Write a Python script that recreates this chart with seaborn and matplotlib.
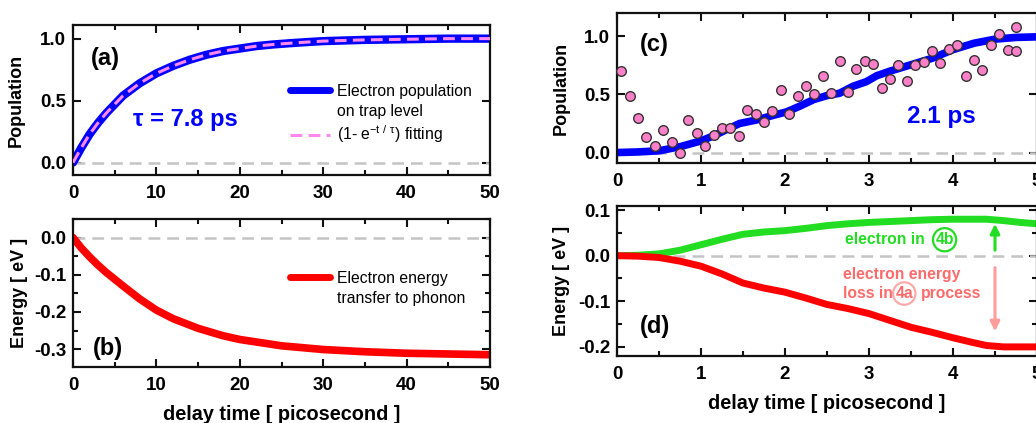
import matplotlib
matplotlib.use("Agg")
import matplotlib.pyplot as plt
from matplotlib.lines import Line2D
from matplotlib.ticker import MultipleLocator
import seaborn as sns

# (a) electron population on trap level, 0-50 ps
t_a = [0, 0.5, 1, 2, 3, 4, 5, 6, 7, 8, 10, 12, 14, 16, 18, 20, 22, 24, 26, 28, 30, 35, 40, 45, 50]
pop_a = [0, 0.06, 0.12, 0.23, 0.32, 0.40, 0.47, 0.54, 0.59, 0.64, 0.72, 0.78, 0.83,
         0.87, 0.90, 0.92, 0.94, 0.953, 0.963, 0.972, 0.98, 0.99, 0.995, 1.0, 1.0]
fit_a = [0, 0.06, 0.12, 0.23, 0.32, 0.40, 0.47, 0.54, 0.59, 0.64, 0.72, 0.78, 0.83,
         0.87, 0.90, 0.92, 0.94, 0.953, 0.963, 0.972, 0.98, 0.99, 0.995, 1.0, 1.0]

# (b) electron energy transfer to phonon
t_b = [0, 1, 2, 3, 4, 5, 6, 8, 10, 12, 15, 18, 20, 25, 30, 35, 40, 45, 50]
energy_b = [0, -0.028, -0.052, -0.074, -0.094, -0.112, -0.13, -0.165, -0.195, -0.218,
            -0.244, -0.264, -0.274, -0.291, -0.301, -0.307, -0.311, -0.313, -0.315]

# (c) population, 0-5 ps: fitted curve and measured points
t_c = [0, 0.25, 0.5, 0.75, 1.0, 1.17, 1.31, 1.46, 1.66, 1.86, 2.02, 2.18, 2.34, 2.5,
       2.65, 2.81, 2.97, 3.09, 3.25, 3.5, 3.75, 4.0, 4.25, 4.5, 4.75, 5.0]
pop_c = [0.0, 0.005, 0.015, 0.05, 0.10, 0.15, 0.20, 0.25, 0.28, 0.32, 0.35, 0.40, 0.455,
         0.49, 0.51, 0.57, 0.61, 0.66, 0.70, 0.755, 0.81, 0.885, 0.94, 0.975, 0.99, 0.995]
t_pts = [0.05, 0.15, 0.25, 0.35, 0.45, 0.55, 0.65, 0.75, 0.85, 0.95, 1.05, 1.15, 1.25,
         1.35, 1.45, 1.55, 1.65, 1.75, 1.85, 1.95, 2.05, 2.15, 2.25, 2.35, 2.45, 2.55,
         2.65, 2.75, 2.85, 2.95, 3.05, 3.15, 3.25, 3.35, 3.45, 3.55, 3.65, 3.75, 3.85,
         3.95, 4.05, 4.15, 4.25, 4.35, 4.45, 4.55, 4.65, 4.75, 4.75]
pop_pts = [0.70, 0.49, 0.30, 0.13, 0.06, 0.19, 0.09, 0.00, 0.28, 0.17, 0.06, 0.15, 0.21,
           0.21, 0.14, 0.365, 0.33, 0.265, 0.36, 0.535, 0.33, 0.49, 0.575, 0.50, 0.66, 0.51,
           0.785, 0.52, 0.72, 0.785, 0.765, 0.555, 0.63, 0.75, 0.615, 0.75, 0.78, 0.875, 0.77,
           0.89, 0.925, 0.66, 0.80, 0.71, 0.925, 1.02, 0.885, 1.08, 0.87]

# (d) energy of electron in 4b (green) and loss in 4a (red)
t_d = [0, 0.25, 0.5, 0.75, 1.0, 1.25, 1.5, 1.75, 2.0, 2.25, 2.5, 2.75, 3.0, 3.25, 3.5,
       3.75, 4.0, 4.25, 4.4, 4.6, 4.8, 5.0]
e_green = [0, 0.001, 0.004, 0.012, 0.024, 0.036, 0.047, 0.052, 0.055, 0.06, 0.066, 0.07,
           0.073, 0.075, 0.077, 0.079, 0.08, 0.08, 0.08, 0.077, 0.073, 0.07]
e_red = [0, -0.001, -0.004, -0.012, -0.023, -0.04, -0.06, -0.071, -0.08, -0.093, -0.107,
         -0.116, -0.127, -0.142, -0.157, -0.168, -0.18, -0.191, -0.197, -0.2, -0.2, -0.2]

BLUE = "#0000ff"
PINK = "#ff88ee"
RED = "#ff0000"
GREEN = "#22dd22"
SALMON = "#ff6b6b"
GRAY = "#c4c4c4"

sns.set_theme(style="ticks")
plt.rcParams['font.family'] = ['Liberation Sans', 'DejaVu Sans']
plt.rcParams['font.weight'] = 'bold'
plt.rcParams['axes.labelweight'] = 'bold'
plt.rcParams['axes.unicode_minus'] = False
plt.rcParams['mathtext.fontset'] = 'custom'
plt.rcParams['mathtext.rm'] = 'Liberation Sans'
plt.rcParams['lines.scale_dashes'] = False
for key in ('text.color', 'axes.labelcolor', 'xtick.color', 'ytick.color', 'axes.edgecolor'):
    plt.rcParams[key] = 'black'

W, H = 1036, 423
fig = plt.figure(figsize=(W / 100, H / 100), dpi=100)


def px_axes(x0, x1, ytop, ybot):
    return fig.add_axes([x0 / W, 1 - ybot / H, (x1 - x0) / W, (ybot - ytop) / H])


def style(ax, xlim, ylim, xmaj, xmin, ymaj, ymin=None):
    ax.set_xlim(*xlim)
    ax.set_ylim(*ylim)
    ax.xaxis.set_major_locator(MultipleLocator(xmaj))
    ax.xaxis.set_minor_locator(MultipleLocator(xmin))
    ax.yaxis.set_major_locator(MultipleLocator(ymaj))
    if ymin:
        ax.yaxis.set_minor_locator(MultipleLocator(ymin))
    ax.tick_params(which='both', direction='in', top=True, right=True, width=1.5,
                   color='#111111')
    ax.tick_params(which='major', length=6, labelsize=13.5, pad=5)
    ax.tick_params(axis='x', which='major', pad=7)
    ax.tick_params(which='minor', length=3.5)
    for s in ax.spines.values():
        s.set_linewidth(1.6)
        s.set_color('#111111')
        s.set_visible(True)
    ax.axhline(0, color=GRAY, lw=1.8, dashes=(8.5, 5), zorder=1)


ax_a = px_axes(73, 490, 25, 175)
ax_b = px_axes(73, 490, 219, 367)
ax_c = px_axes(617, 1037, 13, 163)
ax_d = px_axes(617, 1037, 206, 356)

# (a)
style(ax_a, (0, 50), (-0.1, 1.11), 10, 5, 0.5)
sns.lineplot(x=t_a, y=pop_a, ax=ax_a, color=BLUE, lw=6, zorder=2)
sns.lineplot(x=t_a, y=fit_a, ax=ax_a, color=PINK, lw=2.2, zorder=3)
ax_a.lines[-1].set_dashes((8.5, 4.5))
ax_a.set_ylabel("Population", fontsize=13)
ax_a.yaxis.set_label_coords(-0.115, 0.5)
ax_a.text(0.077, 0.78, "(a)", transform=ax_a.transAxes, fontsize=17, ha='center', va='center')
ax_a.text(0.269, 0.367, "τ = 7.8 ps", transform=ax_a.transAxes, fontsize=17,
          color=BLUE, ha='center', va='center')
handles = [Line2D([], [], color=BLUE, lw=5),
           Line2D([], [], alpha=0),
           Line2D([], [], color=PINK, lw=2.2, dashes=(8.5, 4.5))]
labels = ["Electron population", "on trap level",
          r"(1- e$^{\mathregular{-t\ /\ τ}}$) fitting"]
ax_a.legend(handles, labels, loc='upper left', bbox_to_anchor=(0.52, 0.607),
            frameon=False, borderpad=0, borderaxespad=0, handlelength=2.55,
            handletextpad=0.45, labelspacing=0.3,
            prop={'weight': 'normal', 'size': 11.3})

# (b)
style(ax_b, (0, 50), (-0.348, 0.05), 10, 5, 0.1, 0.05)
sns.lineplot(x=t_b, y=energy_b, ax=ax_b, color=RED, lw=5.5, zorder=2)
ax_b.set_ylabel("Energy [ eV ]", fontsize=13)
ax_b.yaxis.set_label_coords(-0.108, 0.5)
ax_b.set_xlabel("delay time [ picosecond ]", fontsize=14.3)
ax_b.xaxis.set_label_coords(0.5, -0.257)
ax_b.text(0.084, 0.128, "(b)", transform=ax_b.transAxes, fontsize=17, ha='center', va='center')
ax_b.legend([Line2D([], [], color=RED, lw=5), Line2D([], [], alpha=0)],
            ["Electron energy", "transfer to phonon"], loc='upper left',
            bbox_to_anchor=(0.52, 0.65), frameon=False, borderpad=0, borderaxespad=0,
            handlelength=2.55, handletextpad=0.45, labelspacing=0.3,
            prop={'weight': 'normal', 'size': 11.3})

# (c)
style(ax_c, (0, 5), (-0.09, 1.2), 1, 0.5, 0.5)
sns.lineplot(x=t_c, y=pop_c, ax=ax_c, color=BLUE, lw=5.5, zorder=2)
sns.scatterplot(x=t_pts, y=pop_pts, ax=ax_c, s=48, color='#ff80c8',
                edgecolor='#333333', linewidth=1, zorder=4, clip_on=False)
ax_c.set_ylabel("Population", fontsize=13)
ax_c.yaxis.set_label_coords(-0.112, 0.5)
ax_c.text(0.09, 0.787, "(c)", transform=ax_c.transAxes, fontsize=17, ha='center', va='center')
ax_c.text(0.773, 0.309, "2.1 ps", transform=ax_c.transAxes, fontsize=17.5,
          color=BLUE, ha='center', va='center')

# (d)
style(ax_d, (0, 5), (-0.22, 0.109), 1, 0.5, 0.1, 0.05)
sns.lineplot(x=t_d, y=e_green, ax=ax_d, color=GREEN, lw=5, zorder=2)
sns.lineplot(x=t_d, y=e_red, ax=ax_d, color=RED, lw=5, zorder=2)
ax_d.set_ylabel("Energy [ eV ]", fontsize=13)
ax_d.yaxis.set_label_coords(-0.112, 0.5)
ax_d.set_xlabel("delay time [ picosecond ]", fontsize=14.3)
ax_d.xaxis.set_label_coords(0.5, -0.25)
ax_d.text(0.09, 0.194, "(d)", transform=ax_d.transAxes, fontsize=17, ha='center', va='center')
ax_d.text(2.71, 0.035, "electron in", color=GREEN, fontsize=11.3, ha='left', va='center')
ax_d.text(3.9, 0.035, "4b", color=GREEN, fontsize=11.3, ha='center', va='center',
          bbox=dict(boxstyle='circle,pad=0.15', fc='none', ec=GREEN, lw=1.6))
ax_d.text(2.69, -0.041, "electron energy", color=SALMON, fontsize=11.3, ha='left', va='center')
ax_d.text(2.69, -0.083, "loss in", color=SALMON, fontsize=11.3, ha='left', va='center')
ax_d.text(3.42, -0.083, "4a", color=SALMON, fontsize=11.3, ha='center', va='center',
          bbox=dict(boxstyle='circle,pad=0.15', fc='none', ec='#ffaaaa', lw=1.6))
ax_d.text(3.62, -0.083, "process", color=SALMON, fontsize=11.3, ha='left', va='center')
ax_d.annotate('', xy=(4.5, 0.076), xytext=(4.5, 0.006),
              arrowprops=dict(arrowstyle='-|>', color=GREEN, lw=2.2, mutation_scale=14))
ax_d.annotate('', xy=(4.5, -0.172), xytext=(4.5, -0.02),
              arrowprops=dict(arrowstyle='-|>', color='#ff9c9c', lw=2.2, mutation_scale=14))

for ax in (ax_a, ax_c):
    ax.set_xlabel("")

fig.savefig("out.png", dpi=100)
